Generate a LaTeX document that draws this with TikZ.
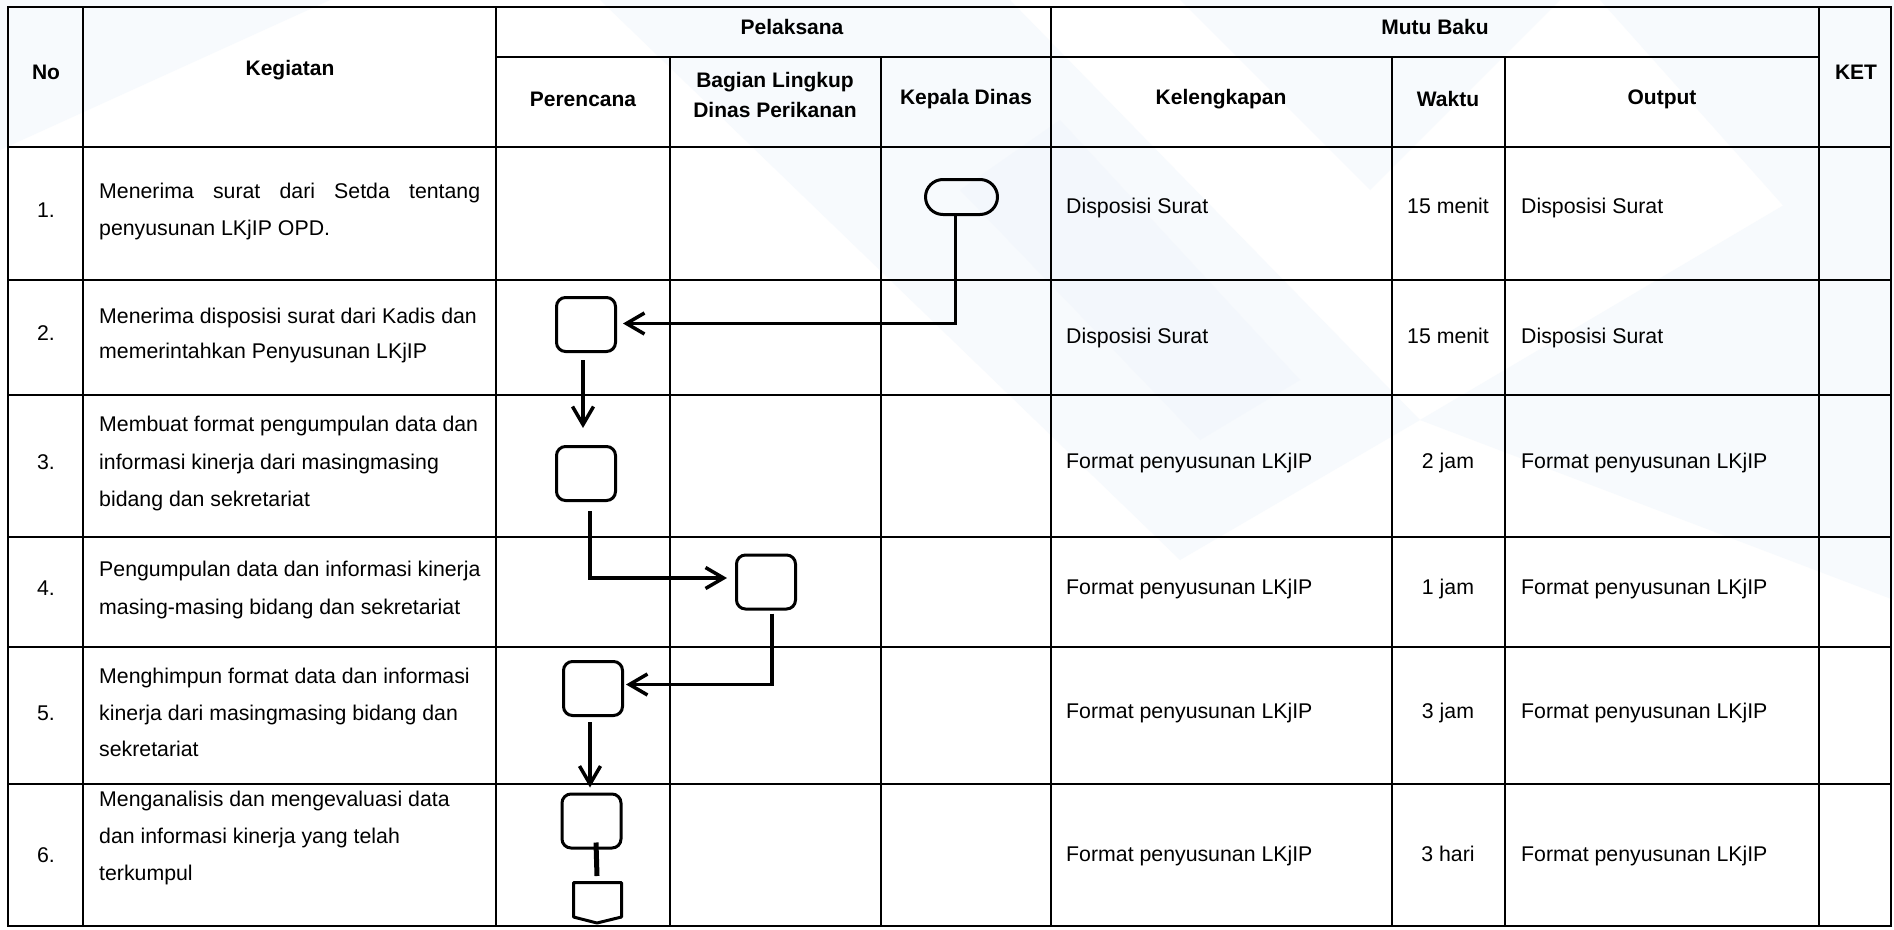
\documentclass[tikz,border=0pt]{standalone}
\usepackage{fontspec}
\setmainfont{Liberation Sans}
\usetikzlibrary{arrows.meta,shapes.misc,calc}
\definecolor{wmA}{RGB}{247,250,253}
\definecolor{wmB}{RGB}{243,247,252}
\begin{document}
\begin{tikzpicture}[x=1pt,y=-1pt,
  tline/.style={line width=2pt,line cap=rect},
  hd/.style={font=\fontsize{21}{30}\selectfont\bfseries,align=center,inner sep=0pt},
  tx/.style={font=\fontsize{21.3}{25}\selectfont,anchor=base west,inner sep=0pt},
  cell/.style={font=\fontsize{21.3}{25}\selectfont,inner sep=0pt,text height=15pt,text depth=4.5pt},
  act/.style={draw,line width=3pt,rounded corners=9pt,minimum width=59pt,minimum height=54pt,inner sep=0pt},
  term/.style={draw,rounded rectangle,line width=3pt,minimum width=72pt,minimum height=35pt,inner sep=0pt},
  arr/.style={line width=3.5pt,-{Straight Barb[length=18pt,width=21pt,line width=3.5pt]}},
  link/.style={line width=3.5pt}]
\useasboundingbox (0,0) rectangle (1894,929);
\fill[white] (0,0) rectangle (1894,929);
% faint watermark shapes
\fill[wmA] (600,0) -- (1010,0) -- (1420,420) -- (1180,560) -- cycle;
\fill[wmA] (1180,0) -- (1560,0) -- (1370,190) -- cycle;
\fill[wmA] (1600,0) -- (1894,0) -- (1894,330) -- cycle;
\fill[wmA] (0,150) -- (330,0) -- (0,0) -- cycle;
\fill[wmA] (1420,420) -- (1894,140) -- (1894,600) -- cycle;
\fill[wmB] (960,190) -- (1060,120) -- (1300,380) -- (1200,440) -- cycle;

% table grid
\draw[tline] (8,7) rectangle (1891,926);
\foreach \yy in {147,280,395,537,647,784} \draw[tline] (8,\yy) -- (1891,\yy);
\draw[tline] (496,57) -- (1819,57);
\foreach \xx in {83,496,1051,1819} \draw[tline] (\xx,7) -- (\xx,926);
\foreach \xx in {670,881,1392,1505} \draw[tline] (\xx,57) -- (\xx,926);

% headers
\node[hd] (hNo) at (46,72) {No};
\node[hd] (hKeg) at (290,70) {Kegiatan};
\node[hd] (hPel) at (792,27) {Pelaksana};
\node[hd] (hMutu) at (1435,27) {Mutu Baku};
\node[hd] (hKet) at (1856,72) {KET};
\node[hd] (hPer) at (583,99) {Perencana};
\node[hd] (hBag) at (775,95) {Bagian Lingkup\\Dinas Perikanan};
\node[hd] (hKep) at (966,99) {Kepala Dinas};
\node[hd] (hKel) at (1221,99) {Kelengkapan};
\node[hd] (hWak) at (1448,99) {Waktu};
\node[hd] (hOut) at (1662,99) {Output};

% numbers
\node[cell] (n1) at (46,212) {1.};
\node[cell] (n2) at (46,335) {2.};
\node[cell] (n3) at (46,464) {3.};
\node[cell] (n4) at (46,590) {4.};
\node[cell] (n5) at (46,715) {5.};
\node[cell] (n6) at (46,857) {6.};

% kegiatan
\node[tx] (k11) at (99,198) {\makebox[381pt][s]{Menerima surat dari Setda tentang}};
\node[tx] (k12) at (99,235) {penyusunan LKjIP OPD.};
\node[tx] (k21) at (99,323) {Menerima disposisi surat dari Kadis dan};
\node[tx] (k22) at (99,358) {memerintahkan Penyusunan LKjIP};
\node[tx] (k31) at (99,431) {Membuat format pengumpulan data dan};
\node[tx] (k32) at (99,469) {informasi kinerja dari masingmasing};
\node[tx] (k33) at (99,506) {bidang dan sekretariat};
\node[tx] (k41) at (99,576) {Pengumpulan data dan informasi kinerja};
\node[tx] (k42) at (99,614) {masing-masing bidang dan sekretariat};
\node[tx] (k51) at (99,683) {Menghimpun format data dan informasi};
\node[tx] (k52) at (99,720) {kinerja dari masingmasing bidang dan};
\node[tx] (k53) at (99,756) {sekretariat};
\node[tx] (k61) at (99,806) {Menganalisis dan mengevaluasi data};
\node[tx] (k62) at (99,843) {dan informasi kinerja yang telah};
\node[tx] (k63) at (99,880) {terkumpul};

% mutu baku
\node[cell,anchor=west] (l1) at (1066,208) {Disposisi Surat};
\node[cell,anchor=west] (l2) at (1066,338) {Disposisi Surat};
\node[cell,anchor=west] (l3) at (1066,463) {Format penyusunan LKjIP};
\node[cell,anchor=west] (l4) at (1066,589) {Format penyusunan LKjIP};
\node[cell,anchor=west] (l5) at (1066,713) {Format penyusunan LKjIP};
\node[cell,anchor=west] (l6) at (1066,856) {Format penyusunan LKjIP};
\node[cell] (w1) at (1448,208) {15 menit};
\node[cell] (w2) at (1448,338) {15 menit};
\node[cell] (w3) at (1448,463) {2 jam};
\node[cell] (w4) at (1448,589) {1 jam};
\node[cell] (w5) at (1448,713) {3 jam};
\node[cell] (w6) at (1448,856) {3 hari};
\node[cell,anchor=west] (o1) at (1521,208) {Disposisi Surat};
\node[cell,anchor=west] (o2) at (1521,338) {Disposisi Surat};
\node[cell,anchor=west] (o3) at (1521,463) {Format penyusunan LKjIP};
\node[cell,anchor=west] (o4) at (1521,589) {Format penyusunan LKjIP};
\node[cell,anchor=west] (o5) at (1521,713) {Format penyusunan LKjIP};
\node[cell,anchor=west] (o6) at (1521,856) {Format penyusunan LKjIP};

% flow shapes
\node[term] (t1) at (961.5,197) {};
\node[act] (b2) at (586,324.5) {};
\node[act] (b3) at (586,473.5) {};
\node[act] (b4) at (766,582) {};
\node[act] (b5) at (593,688.5) {};
\node[act] (b6) at (591.5,821) {};
\draw[line width=3pt,line join=round] (573.5,882.5) -- (621.5,882.5) -- (621.5,917) -- (597,923) -- (573.5,917) -- cycle;
\coordinate (opc) at (597,881);

% connectors
\draw[arr] ([xshift=-6pt]t1.south) |- ([xshift=6pt,yshift=1pt]b2.east);
\draw[arr] ([xshift=-3pt,yshift=-7pt]b2.south) -- ([xshift=-3pt,yshift=17pt]b3.north);
\draw[arr] ([xshift=4pt,yshift=-9pt]b3.south) |- ([xshift=-8pt,yshift=4pt]b4.west);
\draw[arr] ([xshift=6pt,yshift=-3pt]b4.south) |- ([xshift=2pt,yshift=4pt]b5.east);
\draw[arr] ([xshift=-3pt,yshift=-5pt]b5.south) -- ([xshift=-1.5pt,yshift=5pt]b6.north);
\draw[line width=5pt] ([xshift=4.5pt,yshift=7pt]b6.south) -- ([yshift=5pt]opc);
\end{tikzpicture}
\end{document}
